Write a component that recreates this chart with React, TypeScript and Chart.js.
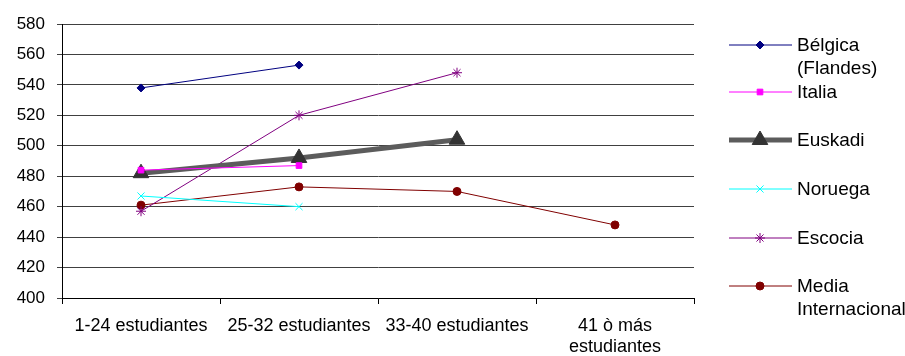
import React, { useEffect, useRef } from "react";
import { Chart, registerables } from "chart.js";
import { drawPoint } from "chart.js/helpers";

Chart.register(...registerables);

const categories: (string | string[])[] = [
  "1-24 estudiantes",
  "25-32 estudiantes",
  "33-40 estudiantes",
  ["41 ò más", "estudiantes"],
];
const belgica = [538, 553, null, null];
const italia = [484, 487, null, null];
const euskadi = [482, 492, 504, null];
const noruega = [467, 460, null, null];
const escocia = [457, 520, 548, null];
const mediaInternacional = [461, 473, 470, 448];

const seriesNames = ["Bélgica (Flandes)", "Italia", "Euskadi", "Noruega", "Escocia", "Media Internacional"];
const legendLines: string[][] = [
  ["Bélgica", "(Flandes)"],
  ["Italia"],
  ["Euskadi"],
  ["Noruega"],
  ["Escocia"],
  ["Media", "Internacional"],
];

const FONT = "'Liberation Sans', Arial, sans-serif";

const legendPlugin = {
  id: "customLegend",
  afterDraw(chart: any) {
    const ctx = chart.ctx;
    const ys = [45, 92, 140, 189, 238, 286];
    chart.data.datasets.forEach((ds: any, i: number) => {
      const y = ys[i];
      ctx.save();
      ctx.strokeStyle = ds.borderColor;
      ctx.lineWidth = ds.borderWidth;
      ctx.beginPath();
      ctx.moveTo(729, y);
      ctx.lineTo(792, y);
      ctx.stroke();
      ctx.restore();
      ctx.save();
      ctx.fillStyle = ds.pointBackgroundColor;
      ctx.strokeStyle = ds.pointBorderColor;
      ctx.lineWidth = 1;
      drawPoint(ctx, { pointStyle: ds.pointStyle, radius: ds.pointRadius, rotation: 0, borderWidth: 1 }, 760, y);
      ctx.restore();
      ctx.save();
      ctx.fillStyle = "#000";
      ctx.font = `19px ${FONT}`;
      ctx.textBaseline = "middle";
      legendLines[i].forEach((t, j) => ctx.fillText(t, 797, y + 1 + j * 23));
      ctx.restore();
    });
  },
};

export default function App() {
  const ref = useRef<HTMLCanvasElement>(null);
  useEffect(() => {
    const mk = (label: string, data: any[], color: string, style: string, radius: number, width = 1, fill?: string) => ({
      label,
      data,
      borderColor: color,
      borderWidth: width,
      pointStyle: style,
      pointRadius: radius,
      pointHoverRadius: radius,
      pointBackgroundColor: fill ?? color,
      pointBorderColor: fill ?? color,
      pointBorderWidth: 1,
      spanGaps: false,
      tension: 0,
    });
    const chart = new Chart(ref.current!, {
      type: "line",
      data: {
        labels: categories,
        datasets: [
          mk(seriesNames[0], belgica, "#000080", "rectRot", 4),
          mk(seriesNames[1], italia, "#FF00FF", "rect", 4),
          mk(seriesNames[2], euskadi, "#5c5c5c", "triangle", 9, 5, "#333333"),
          mk(seriesNames[3], noruega, "#00FFFF", "crossRot", 5),
          mk(seriesNames[4], escocia, "#800080", "star", 5),
          mk(seriesNames[5], mediaInternacional, "#800000", "circle", 4),
        ],
      },
      options: {
        animation: false,
        responsive: false,
        layout: { padding: { top: 24, right: 211, left: 0, bottom: 0 } },
        plugins: { legend: { display: false }, tooltip: { enabled: false } },
        scales: {
          x: {
            offset: true,
            grid: { offset: true, drawOnChartArea: false, drawTicks: true, tickLength: 6, color: "#000" },
            border: { color: "#000" },
            ticks: { color: "#000", font: { family: FONT, size: 18, lineHeight: 1.2 }, padding: 11, maxRotation: 0, autoSkip: false },
            afterFit: (s: any) => { s.height = 58; },
          },
          y: {
            min: 400,
            max: 580,
            grid: { color: "#404040", tickLength: 5 },
            border: { color: "#000" },
            ticks: { stepSize: 20, color: "#000", font: { family: FONT, size: 17 }, padding: 12 },
            afterFit: (s: any) => { s.width = 62; },
          },
        },
      },
      plugins: [legendPlugin],
    });
    return () => chart.destroy();
  }, []);
  return (
    <div style={{ position: "absolute", left: 0, top: 0, width: 905, height: 356, background: "#fff" }}>
      <canvas ref={ref} width={905} height={356} />
    </div>
  );
}
